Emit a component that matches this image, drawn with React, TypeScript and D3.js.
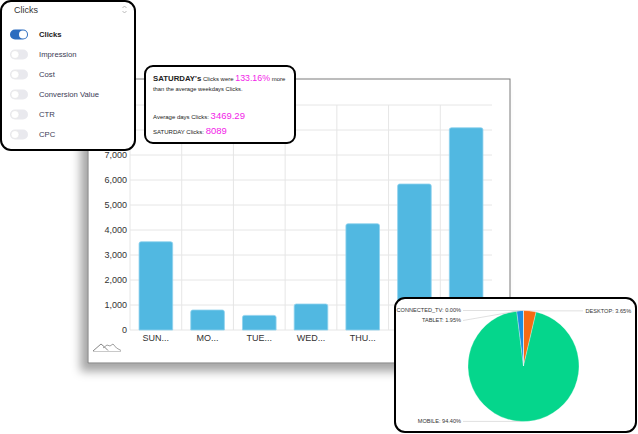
import React from "react";
import * as d3 from "d3";

const days = ["SUNDAY", "MONDAY", "TUESDAY", "WEDNESDAY", "THURSDAY", "FRIDAY", "SATURDAY"];
const dayLabels = ["SUN...", "MO...", "TUE...", "WED...", "THU...", "FRI...", "SAT..."];
const clicks = [3530, 800, 585, 1040, 4250, 5840, 8089];
const yTicks = [0, 1000, 2000, 3000, 4000, 5000, 6000, 7000, 8000, 9000];

const metrics = ["Clicks", "Impression", "Cost", "Conversion Value", "CTR", "CPC"];
const activeMetric = "Clicks";

const devices = ["DESKTOP", "MOBILE", "TABLET", "CONNECTED_TV"];
const deviceShare = [3.65, 94.4, 1.95, 0.0];
const deviceColors = ["#f66b14", "#05d68c", "#1a8fe0", "#7a5cd6"];

const avgClicks = 3469.29;
const satClicks = 8089;
const pctMore = 133.16;

const FONT = "'Liberation Sans', Arial, sans-serif";
const MAGENTA = "#f21ce8";

const W = 638;
const H = 434;

const margin = { left: 130, right: 146, top: 105, bottom: 104 };

const App = () => {
  const x = d3
    .scaleBand<string>()
    .domain(days)
    .range([margin.left, W - margin.right])
    .paddingInner(0.35)
    .paddingOuter(0.175);
  const y = d3.scaleLinear().domain([0, 9000]).range([H - margin.bottom, margin.top]);
  const step = x.step();
  const gap = (step - x.bandwidth()) / 2;

  const barPath = (d: string, v: number) => {
    const x0 = x(d)!;
    const w = x.bandwidth();
    const y0 = y(0);
    const y1 = y(v);
    const r = 2;
    return `M${x0},${y0}V${y1 + r}Q${x0},${y1} ${x0 + r},${y1}H${x0 + w - r}Q${x0 + w},${y1} ${x0 + w},${y1 + r}V${y0}Z`;
  };

  // pie
  const cx = 523.5;
  const cy = 366;
  const R = 55.5;
  const pie = d3.pie<number>().sort(null).value((d) => d)(deviceShare);
  const arc = d3.arc<d3.PieArcDatum<number>>().innerRadius(0).outerRadius(R);
  const labels = pie.map((p, i) => {
    const a = (p.startAngle + p.endAngle) / 2;
    const px = cx + R * Math.sin(a);
    const py = cy - R * Math.cos(a);
    return { name: devices[i], value: deviceShare[i], left: a > Math.PI, px, py, ly: py };
  });
  const leftLabels = labels.filter((l) => l.left).sort((a, b) => a.ly - b.ly);
  leftLabels.forEach((l, i) => {
    if (i > 0 && l.ly < leftLabels[i - 1].ly + 10) l.ly = leftLabels[i - 1].ly + 10;
  });

  return (
    <svg
      width={W}
      height={H}
      style={{ position: "absolute", left: 0, top: 0, fontFamily: FONT }}
    >
      <defs>
        <filter id="panelShadow" x="-10%" y="-10%" width="120%" height="125%">
          <feDropShadow dx={-7} dy={8} stdDeviation={5} floodColor="#000" floodOpacity={0.35} />
        </filter>
      </defs>
      <rect width={W} height={H} fill="#fff" />

      {/* main bar chart panel */}
      <rect x={88} y={79} width={422} height={284} fill="#fff" stroke="#7a7a7a" strokeWidth={1} filter="url(#panelShadow)" />

      <g className="grid">
        {yTicks.map((t) => (
          <line key={t} x1={margin.left} x2={W - margin.right} y1={y(t)} y2={y(t)} stroke="#e6e6e6" strokeWidth={1} />
        ))}
        {days.map((d) => (
          <line key={d} x1={x(d)! - gap} x2={x(d)! - gap} y1={margin.top} y2={y(0)} stroke="#e6e6e6" strokeWidth={1} />
        ))}
      </g>

      {days.map((d, i) => (
        <path key={d} d={barPath(d, clicks[i])} fill="#51b8e1" stroke="#8fd2ee" strokeWidth={0.8} />
      ))}

      {yTicks.map((t) => (
        <text key={t} x={127} y={y(t)} dy="0.35em" textAnchor="end" fontSize={9} fill="#333">
          {d3.format(",")(t)}
        </text>
      ))}
      {days.map((d, i) => (
        <text key={d} x={x(d)! + x.bandwidth() / 2} y={341} textAnchor="middle" fontSize={9} fill="#333">
          {dayLabels[i]}
        </text>
      ))}

      {/* small sparkline icon */}
      <g fill="none" strokeWidth={0.8}>
        <path d="M93,351 L97,347.5 L101,344 L104.5,347 L108,350.5" stroke="#666" />
        <path d="M103,348 L107,345 L110,346 L113,344 L116.5,348 L121,350.5" stroke="#888" />
        <path d="M93,351.5 H121" stroke="#bbb" />
      </g>

      {/* metric dropdown card */}
      <g>
        <rect x={1} y={1} width={134} height={149} rx={10} fill="#fff" stroke="#000" strokeWidth={2} />
        <text x={14} y={13} fontSize={9} fill="#333">
          {activeMetric}
        </text>
        <path d="M122.5,8 L124.5,6 L126.5,8 M122.5,11 L124.5,13 L126.5,11" fill="none" stroke="#aaa" strokeWidth={0.8} />
        {metrics.map((m, i) => {
          const c = 34.5 + i * 20;
          const on = m === activeMetric;
          return (
            <g key={m}>
              <rect x={10} y={c - 5} width={18} height={10} rx={5} fill={on ? "#2d6dbf" : "#e9e9ee"} />
              <circle cx={on ? 23 : 15} cy={c} r={4} fill="#fff" stroke={on ? "none" : "#ddd"} strokeWidth={0.5} />
              <text x={39} y={c} dy="0.35em" fontSize={7.7} fontWeight={on ? 700 : 400} fill={on ? "#222" : "#3b3b55"}>
                {m}
              </text>
            </g>
          );
        })}
      </g>

      {/* tooltip card */}
      <g>
        <rect x={145} y={66} width={150} height={77} rx={8} fill="#fff" stroke="#000" strokeWidth={2} />
        <text x={153} y={81} fill="#222">
          <tspan fontSize={7.8} fontWeight={700}>SATURDAY's</tspan>
          <tspan fontSize={6}> Clicks were </tspan>
          <tspan fontSize={8.8} fill={MAGENTA}>{pctMore.toFixed(2)}%</tspan>
          <tspan fontSize={6}> more</tspan>
        </text>
        <text x={153} y={91} fontSize={5.8} fill="#222">
          than the average weekdays Clicks.
        </text>
        <text x={153} y={119} fill="#222">
          <tspan fontSize={6}>Average days Clicks: </tspan>
          <tspan fontSize={9.5} fill={MAGENTA}>{avgClicks.toFixed(2)}</tspan>
        </text>
        <text x={153} y={134} fill="#222">
          <tspan fontSize={6}>SATURDAY Clicks: </tspan>
          <tspan fontSize={9.5} fill={MAGENTA}>{satClicks}</tspan>
        </text>
      </g>

      {/* device pie card */}
      <g>
        <rect x={395} y={298} width={241} height={134} rx={10} fill="#fff" stroke="#000" strokeWidth={2} />
        <g transform={`translate(${cx},${cy})`}>
          {pie.map((p, i) => (
            <path key={devices[i]} d={arc(p) || ""} fill={deviceColors[i]} stroke="#fff" strokeWidth={0.3} />
          ))}
        </g>
        {labels.map((l) => (
          <g key={l.name}>
            <line
              x1={l.left ? 463 : 583}
              y1={l.ly}
              x2={l.px}
              y2={l.py}
              stroke="#d8d8d8"
              strokeWidth={0.8}
            />
            <text
              x={l.left ? 461 : 585.5}
              y={l.ly}
              dy="0.35em"
              textAnchor={l.left ? "end" : "start"}
              fontSize={5.6}
              fill="#333"
            >
              {`${l.name}: ${l.value.toFixed(2)}%`}
            </text>
          </g>
        ))}
      </g>
    </svg>
  );
};

export default App;
